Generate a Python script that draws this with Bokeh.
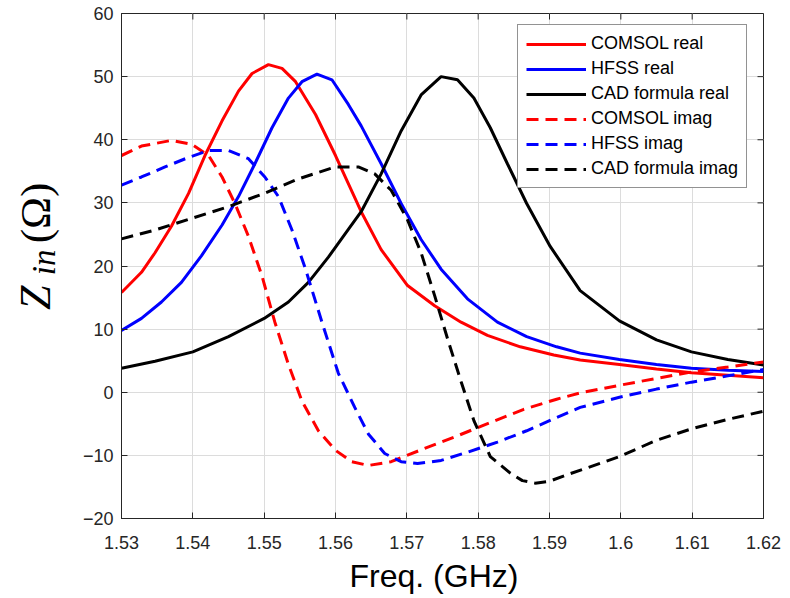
import numpy as np
from bokeh.plotting import figure
from bokeh.layouts import row
from bokeh.models import (Range1d, FixedTicker, NumeralTickFormatter, Label, Legend, Title)
from bokeh.embed import file_html
from bokeh.resources import INLINE

# ---------------- data ----------------
f_comsol_re = [1.5300, 1.5328, 1.5347, 1.5370, 1.5394, 1.5417, 1.5441, 1.5464, 1.5483,
               1.5506, 1.5525, 1.5544, 1.5572, 1.5600, 1.5636, 1.5664, 1.5701, 1.5739,
               1.5776, 1.5813, 1.5859, 1.5906, 1.5943, 1.5998, 1.6050, 1.6099, 1.6150,
               1.6200]
z_comsol_re = [15.8, 19.0, 22.1, 26.3, 31.5, 37.5, 43.0, 47.7, 50.5,
               51.9, 51.3, 49.2, 44.0, 37.5, 28.6, 22.6, 16.9, 13.7,
               11.1, 9.0, 7.2, 5.9, 5.1, 4.4, 3.7, 3.1, 2.7,
               2.3]

f_hfss_re = [1.5300, 1.5328, 1.5356, 1.5384, 1.5412, 1.5441, 1.5464, 1.5487, 1.5511,
             1.5534, 1.5553, 1.5574, 1.5595, 1.5618, 1.5636, 1.5664, 1.5692, 1.5720,
             1.5748, 1.5785, 1.5827, 1.5868, 1.5910, 1.5943, 1.5998, 1.6050, 1.6099,
             1.6150, 1.6200]
z_hfss_re = [9.8, 11.7, 14.3, 17.4, 21.6, 26.5, 31.0, 36.2, 41.9,
             46.6, 49.2, 50.4, 49.5, 45.6, 42.2, 36.2, 29.9, 24.2,
             19.5, 14.8, 11.1, 8.8, 7.2, 6.2, 5.2, 4.4, 3.8,
             3.5, 3.3]

f_cad_re = [1.5300, 1.5347, 1.5400, 1.5450, 1.5500, 1.5534, 1.5562, 1.5590, 1.5618,
            1.5636, 1.5664, 1.5692, 1.5720, 1.5748, 1.5771, 1.5794, 1.5817, 1.5841,
            1.5868, 1.5901, 1.5943, 1.5998, 1.6050, 1.6099, 1.6150, 1.6200]
z_cad_re = [3.8, 4.9, 6.4, 8.8, 11.7, 14.3, 17.4, 21.4, 25.8,
            28.6, 34.6, 41.4, 47.1, 50.0, 49.5, 46.6, 41.9, 36.2,
            29.9, 23.1, 16.1, 11.3, 8.3, 6.4, 5.2, 4.3]

f_comsol_im = [1.5300, 1.5328, 1.5370, 1.5398, 1.5422, 1.5441, 1.5459, 1.5478, 1.5497,
               1.5515, 1.5534, 1.5553, 1.5576, 1.5600, 1.5623, 1.5646, 1.5678, 1.5725,
               1.5771, 1.5817, 1.5864, 1.5910, 1.5943, 1.5998, 1.6050, 1.6099, 1.6150,
               1.6200]
z_comsol_im = [37.5, 39.0, 39.9, 39.3, 37.5, 34.1, 29.9, 24.7, 18.4,
               11.1, 4.4, -1.4, -6.1, -9.2, -11.0, -11.6, -11.0, -8.9,
               -6.9, -4.8, -2.7, -1.1, -0.1, 1.1, 2.2, 3.2, 4.0,
               4.8]

f_hfss_im = [1.5300, 1.5328, 1.5361, 1.5394, 1.5422, 1.5450, 1.5478, 1.5501, 1.5520,
             1.5539, 1.5558, 1.5581, 1.5604, 1.5627, 1.5646, 1.5669, 1.5692, 1.5715,
             1.5748, 1.5785, 1.5827, 1.5868, 1.5910, 1.5943, 1.5998, 1.6050, 1.6099,
             1.6150, 1.6200]
z_hfss_im = [32.8, 34.1, 35.7, 37.2, 38.3, 38.3, 37.0, 34.1, 31.0,
             25.7, 19.5, 11.1, 3.0, -2.4, -6.6, -9.7, -11.0, -11.3,
             -10.8, -9.5, -7.9, -6.1, -4.0, -2.4, -0.8, 0.5, 1.6,
             2.6, 3.6]

f_cad_im = [1.5300, 1.5347, 1.5400, 1.5450, 1.5500, 1.5548, 1.5600, 1.5632, 1.5655,
            1.5678, 1.5701, 1.5720, 1.5739, 1.5757, 1.5776, 1.5794, 1.5817, 1.5845,
            1.5862, 1.5880, 1.5900, 1.5924, 1.5998, 1.6050, 1.6099, 1.6150, 1.6200]
z_cad_im = [24.3, 25.7, 27.6, 29.4, 31.5, 33.8, 35.7, 35.7, 34.6,
            32.0, 27.3, 22.1, 15.3, 8.5, 1.7, -4.5, -10.2, -12.8,
            -14.0, -14.4, -14.1, -13.1, -10.2, -7.6, -5.8, -4.3, -3.0]

x_ticks = [1.53, 1.54, 1.55, 1.56, 1.57, 1.58, 1.59, 1.60, 1.61, 1.62]
y_ticks = [-20, -10, 0, 10, 20, 30, 40, 50, 60]
X_MIN, X_MAX = 1.53, 1.62
Y_MIN, Y_MAX = -20, 60

# ---------------- layout sizes ----------------
AX = "#262626"
W, H = 790, 598
LAB_W = 75                       # narrow panel that carries the y-axis title
BL, BR, BT, BB = 121 - LAB_W, 27, 13, 77

# ---------------- y title panel ----------------
pl = figure(width=LAB_W, height=H, output_backend="svg", toolbar_location=None,
            x_range=Range1d(0, LAB_W), y_range=Range1d(0, H),
            x_axis_type=None, y_axis_type=None, min_border=0)
pl.outline_line_color = None
pl.grid.visible = False
pl.background_fill_color = "white"
pl.border_fill_color = "white"
lab_z = Label(x=35, y=247, text="Z", angle=np.pi / 2,
              text_font="Liberation Serif", text_font_style="italic",
              text_font_size="44px", text_color="black", text_baseline="alphabetic")
lab_in = Label(x=43, y=288, text="in", angle=np.pi / 2,
               text_font="Liberation Serif", text_font_style="italic",
               text_font_size="33px", text_color="black", text_baseline="alphabetic")
lab_om = Label(x=35, y=326, text="(Ω)", angle=np.pi / 2,
               text_font="Liberation Serif", text_font_style="normal",
               text_font_size="43px", text_color="black", text_baseline="alphabetic")
for lb in (lab_z, lab_in, lab_om):
    pl.add_layout(lb)

# ---------------- main plot ----------------
p = figure(width=W - LAB_W, height=H, output_backend="svg", toolbar_location=None,
           x_range=Range1d(X_MIN, X_MAX), y_range=Range1d(Y_MIN, Y_MAX),
           min_border_left=BL, min_border_right=BR, min_border_top=BT,
           min_border_bottom=BB)
p.background_fill_color = "white"
p.border_fill_color = "white"
p.outline_line_color = AX
p.outline_line_width = 1

for ax, tk in ((p.xaxis, x_ticks), (p.yaxis, y_ticks)):
    ax.ticker = FixedTicker(ticks=tk)
    ax.axis_line_color = AX
    ax.major_tick_line_color = AX
    ax.major_tick_in = 6
    ax.major_tick_out = 0
    ax.minor_tick_line_color = None
    ax.major_label_text_color = AX
    ax.major_label_text_font = "Liberation Sans"
    ax.major_label_text_font_size = "18px"

p.xaxis.formatter = NumeralTickFormatter(format="0.[00]")
p.xaxis.major_label_standoff = 17
p.yaxis.major_label_standoff = 8

# x-axis title (as a Title below the axis so it can sit slightly left of centre)
xt = Title(text="Freq. (GHz)", align="left", offset=228, standoff=9,
           text_font="Liberation Sans", text_font_style="normal",
           text_font_size="32px", text_color="black")
p.add_layout(xt, "below")

p.xgrid.ticker = FixedTicker(ticks=x_ticks)
p.ygrid.ticker = FixedTicker(ticks=y_ticks)
p.grid.grid_line_color = "#dcdcdc"
p.grid.grid_line_width = 1

# inward box ticks on top and right edges
p.ray(x=x_ticks, y=[Y_MAX] * len(x_ticks), length=6, length_units="screen",
      angle=-np.pi / 2, line_color=AX, line_width=1)
p.ray(x=[X_MAX] * len(y_ticks), y=y_ticks, length=6, length_units="screen",
      angle=np.pi, line_color=AX, line_width=1)

LW = 3
DASH = "12 7"
r1 = p.line(f_comsol_re, z_comsol_re, line_color="#ff0000", line_width=LW)
r2 = p.line(f_hfss_re, z_hfss_re, line_color="#0000ff", line_width=LW)
r3 = p.line(f_cad_re, z_cad_re, line_color="#000000", line_width=LW)
r4 = p.line(f_comsol_im, z_comsol_im, line_color="#ff0000", line_width=LW, line_dash=DASH)
r5 = p.line(f_hfss_im, z_hfss_im, line_color="#0000ff", line_width=LW, line_dash=DASH)
r6 = p.line(f_cad_im, z_cad_im, line_color="#000000", line_width=LW, line_dash=DASH)

legend = Legend(items=[("COMSOL real", [r1]), ("HFSS real", [r2]),
                       ("CAD formula real", [r3]), ("COMSOL imag", [r4]),
                       ("HFSS imag", [r5]), ("CAD formula imag", [r6])])
legend.label_text_font = "Liberation Sans"
legend.label_text_font_size = "18px"
legend.label_text_color = "black"
legend.glyph_width = 60
legend.glyph_height = 20
legend.label_height = 20
legend.label_standoff = 5
legend.spacing = 4
legend.padding = 8
legend.margin = 0
legend.border_line_color = AX
legend.border_line_width = 1
legend.background_fill_alpha = 1
legend.location = (396, 330)
p.add_layout(legend, "center")

layout = row(pl, p)
open("out.html", "w").write(file_html(layout, INLINE))
